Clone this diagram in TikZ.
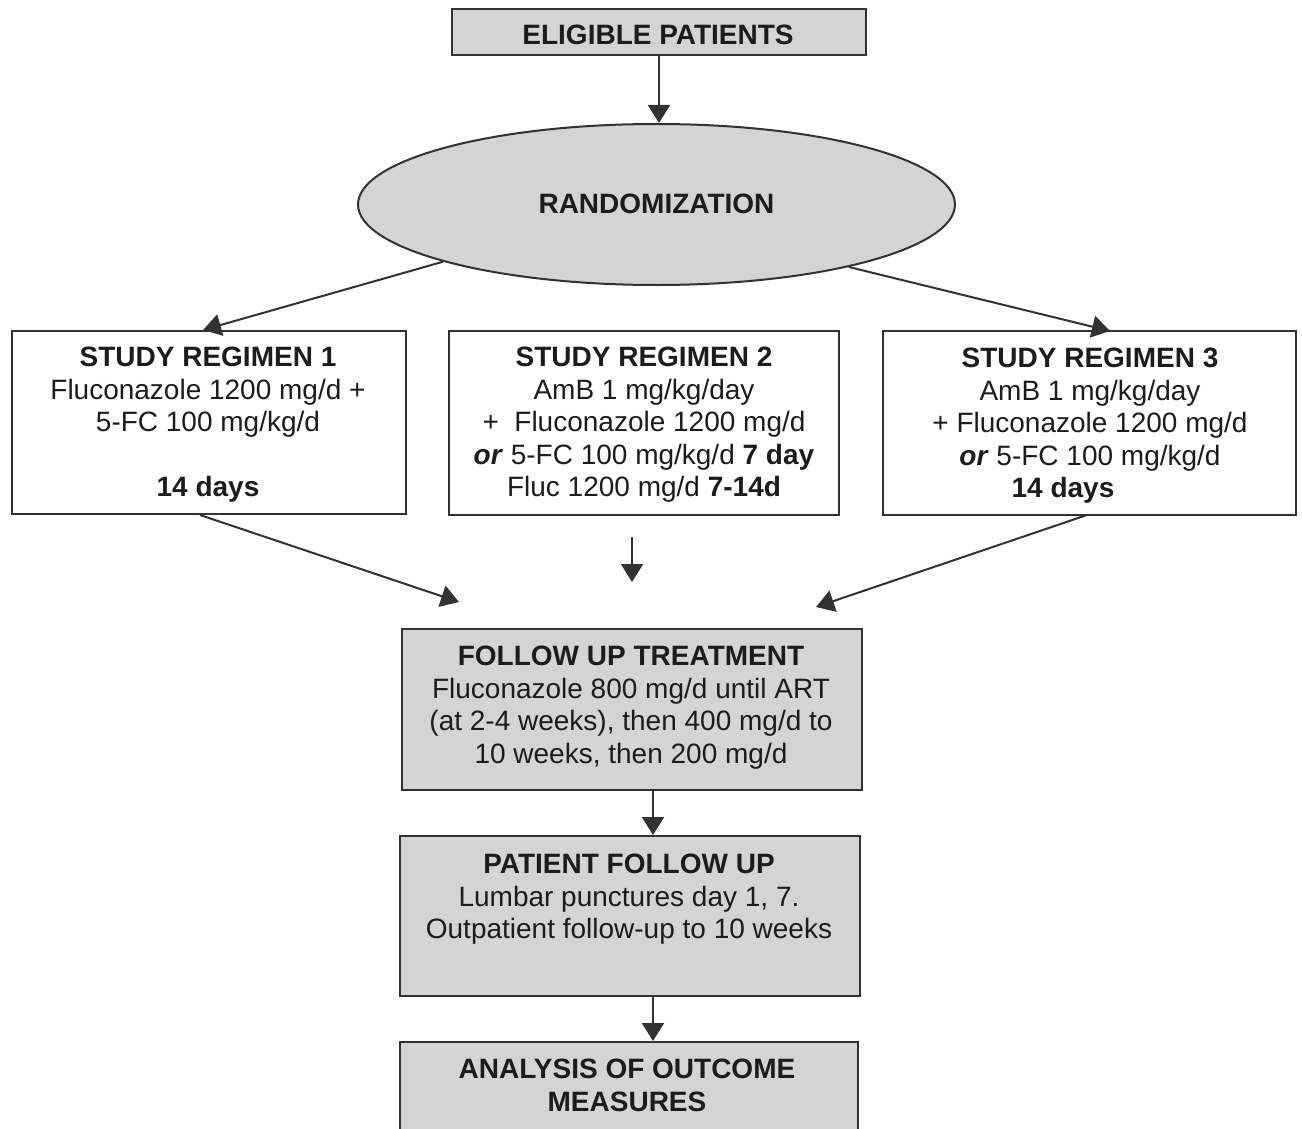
\documentclass[tikz,border=0pt]{standalone}
\usepackage{fontspec}
\setmainfont{Liberation Sans}
\usetikzlibrary{shapes.geometric,arrows.meta,calc}
\definecolor{boxgray}{RGB}{212,212,212}
\definecolor{ink}{RGB}{28,28,28}
\definecolor{edgec}{RGB}{50,50,50}
\begin{document}
\begin{tikzpicture}[x=0.5pt,y=-0.5pt,
  box/.style={draw=edgec,line width=1pt,rectangle,inner sep=0pt},
  greybox/.style={box,fill=boxgray},
  txt/.style={inner sep=0pt,anchor=north,align=center,text=ink,font=\fontsize{14}{16.25}\selectfont},
  arr/.style={draw=edgec,line width=1pt,-{Triangle[length=9pt,width=11pt]}}]
\useasboundingbox (0,0) rectangle (1302,1129);
\fill[white] (0,0) rectangle (1302,1129);
% boxes
\node[greybox,minimum width=207pt,minimum height=23pt] (elig) at (659,32) {};
\node[draw=edgec,line width=1pt,fill=boxgray,ellipse,inner sep=0pt,minimum width=298.5pt,minimum height=80.5pt] (rand) at (656.5,204.5) {};
\node[box,minimum width=197pt,minimum height=91.5pt] (r1) at (209,422.5) {};
\node[box,minimum width=195pt,minimum height=92pt] (r2) at (644,423) {};
\node[box,minimum width=206.5pt,minimum height=92pt] (r3) at (1089.5,423) {};
\node[greybox,minimum width=230pt,minimum height=80.5pt] (fut) at (632,709.5) {};
\node[greybox,minimum width=230pt,minimum height=80pt] (pfu) at (630,916) {};
\node[greybox,minimum width=229pt,minimum height=51.5pt] (ana) at (629,1093.5) {};
% texts
\node[txt] (telig) at (658,25) {\textbf{ELIGIBLE PATIENTS}};
\node[txt] (trand) at (656.5,194) {\textbf{RANDOMIZATION}};
\node[txt] (tr1) at (208,347) {\textbf{STUDY REGIMEN 1}\\Fluconazole 1200 mg/d +\\5-FC 100 mg/kg/d\\[16.25pt]\textbf{14 days}};
\node[txt] (tr2) at (644,347) {\textbf{STUDY REGIMEN 2}\\AmB 1 mg/kg/day\\+\ \ Fluconazole 1200 mg/d\\\textbf{\textit{or}} 5-FC 100 mg/kg/d \textbf{7 day}\\Fluc 1200 mg/d \textbf{7-14d}};
\node[txt] (tr3) at (1090,348) {\textbf{STUDY REGIMEN 3}\\AmB 1 mg/kg/day\\+ Fluconazole 1200 mg/d\\\textbf{\textit{or}} 5-FC 100 mg/kg/d\\\textbf{14 days}\hspace*{27pt}};
\node[txt] (tfut) at (631,646) {\textbf{FOLLOW UP TREATMENT}\\Fluconazole 800 mg/d until ART\\(at 2-4 weeks), then 400 mg/d to\\10 weeks, then 200 mg/d};
\node[txt] (tpfu) at (629,854) {\textbf{PATIENT FOLLOW UP}\\Lumbar punctures day 1, 7.\\Outpatient follow-up to 10 weeks};
\node[txt] (tana) at (627,1059) {\textbf{ANALYSIS OF OUTCOME}\\\textbf{MEASURES}};
% free ends
\coordinate (r1in) at (203,330);
\coordinate (r3in) at (1110,331);
\coordinate (r1out) at (200,515);
\coordinate (r3out) at (1087,515);
\coordinate (futL) at (459,602);
\coordinate (futR) at (816,607);
\coordinate (r2a) at (632,537);
\coordinate (r2b) at (632,582);
\coordinate (futout) at ($(fut.south)+(21,0)$);
\coordinate (pfuout) at ($(pfu.south)+(23,0)$);
% connectors
\draw[arr] (elig.south) -- (elig.south |- rand.north);
\draw[arr] (rand.195) -- (r1in);
\draw[arr] (rand.342) -- (r3in);
\draw[arr] (r1out) -- (futL);
\draw[arr] (r3out) -- (futR);
\draw[arr] (r2a) -- (r2b);
\draw[arr] (futout) -- (futout |- pfu.north);
\draw[arr] (pfuout) -- (pfuout |- ana.north);
\end{tikzpicture}
\end{document}
